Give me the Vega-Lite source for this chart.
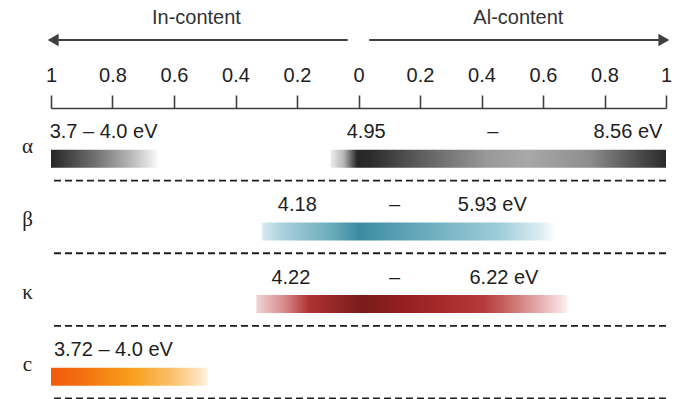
{
  "$schema": "https://vega.github.io/schema/vega-lite/v6.json",
  "description": "Band-gap ranges of alloyed Ga2O3 polymorphs versus In- and Al-content.",
  "autosize": "none",
  "padding": {"top": 108, "left": 51, "right": 14, "bottom": 1},
  "width": 615,
  "height": 290.5,
  "background": "white",
  "config": {
    "view": {"stroke": null},
    "font": "Liberation Sans"
  },
  "datasets": {
    "header": [
      {"side": "In", "title": "In-content", "center": -0.527, "shaftStart": -0.035, "tip": -0.993},
      {"side": "Al", "title": "Al-content", "center": 0.52, "shaftStart": 0.035, "tip": 0.993}
    ],
    "rows": [
      {"phase": "α"}, {"phase": "β"}, {"phase": "κ"}, {"phase": "c"}
    ],
    "bars": [
      {"id": "α-In", "phase": "α", "from": -1.0, "to": -0.65},
      {"id": "α-Al", "phase": "α", "from": -0.091, "to": 1.0},
      {"id": "β", "phase": "β", "from": -0.313, "to": 0.64},
      {"id": "κ", "phase": "κ", "from": -0.332, "to": 0.679},
      {"id": "c", "phase": "c", "from": -1.0, "to": -0.49}
    ],
    "labels": [
      {"phase": "α", "text": "3.7 – 4.0 eV", "pos": -0.829},
      {"phase": "α", "text": "4.95", "pos": 0.025},
      {"phase": "α", "text": "–", "pos": 0.437},
      {"phase": "α", "text": "8.56 eV", "pos": 0.876},
      {"phase": "β", "text": "4.18", "pos": -0.199},
      {"phase": "β", "text": "–", "pos": 0.117},
      {"phase": "β", "text": "5.93 eV", "pos": 0.435},
      {"phase": "κ", "text": "4.22", "pos": -0.22},
      {"phase": "κ", "text": "–", "pos": 0.117},
      {"phase": "κ", "text": "6.22 eV", "pos": 0.473},
      {"phase": "c", "text": "3.72 – 4.0 eV", "pos": -0.797}
    ]
  },
  "resolve": {"scale": {"y": "independent"}},
  "layer": [
    {
      "data": {"name": "header"},
      "layer": [
        {
          "mark": {"type": "text", "fontSize": 20, "color": "#333333", "baseline": "middle", "align": "center"},
          "encoding": {
            "x": {"field": "center", "type": "quantitative", "title": null, "scale": {"domain": [-1, 1]}},
            "y": {"datum": "label", "type": "nominal", "axis": null,
                  "scale": {"type": "point", "domain": ["label", "arrow"], "range": [-90, -68], "padding": 0}},
            "text": {"field": "title"}
          }
        },
        {
          "mark": {"type": "rule", "strokeWidth": 2, "color": "#404040"},
          "encoding": {
            "x": {"field": "shaftStart", "type": "quantitative", "title": null},
            "x2": {"field": "tip"},
            "y": {"datum": "arrow", "type": "nominal", "axis": null}
          }
        },
        {
          "mark": {"type": "point", "filled": true, "size": 160, "color": "#404040", "opacity": 1},
          "encoding": {
            "x": {"field": "tip", "type": "quantitative", "title": null},
            "y": {"datum": "arrow", "type": "nominal", "axis": null},
            "shape": {"field": "side", "type": "nominal", "legend": null,
                      "scale": {"domain": ["In", "Al"], "range": ["triangle-left", "triangle-right"]}}
          }
        }
      ]
    },
    {
      "encoding": {
        "y": {
          "field": "phase", "type": "nominal", "title": null,
          "scale": {"domain": ["α", "β", "κ", "c"], "paddingInner": 0, "paddingOuter": 0},
          "axis": {
            "domain": false, "ticks": false, "grid": false,
            "labelFont": "Liberation Serif", "labelFontSize": 21, "labelColor": "#222222",
            "labelAlign": "center", "labelBaseline": "middle", "labelPadding": 24, "labelOffset": 3
          }
        }
      },
      "layer": [
        {
          "data": {"name": "rows"},
          "mark": {"type": "rule", "strokeDash": [7, 4], "color": "#1e1e1e", "strokeWidth": 1.8},
          "encoding": {
            "y": {"field": "phase", "type": "nominal", "bandPosition": 1}
          }
        },
        {
          "data": {"name": "bars"},
          "transform": [{"filter": "datum.id === 'α-In'"}],
          "mark": {"type": "bar", "height": 18, "yOffset": 14.5,
            "fill": {"gradient": "linear", "x1": 0, "y1": 0, "x2": 1, "y2": 0, "stops": [
              {"offset": 0, "color": "#262626"}, {"offset": 0.45, "color": "#787878"},
              {"offset": 0.75, "color": "#bababa"}, {"offset": 0.92, "color": "#e6e6e6"},
              {"offset": 1, "color": "#ffffff"}]}},
          "encoding": {
            "x": {"field": "from", "type": "quantitative", "title": null,
              "scale": {"domain": [-1, 1]},
              "axis": {
                "orient": "top", "values": [-1, -0.8, -0.6, -0.4, -0.2, 0, 0.2, 0.4, 0.6, 0.8, 1],
                "labelExpr": "format(abs(datum.value), '~g')", "grid": false,
                "domainColor": "#404040", "domainWidth": 1.6,
                "tickColor": "#404040", "tickWidth": 1.6, "tickSize": 13,
                "labelFont": "Liberation Sans", "labelFontSize": 20, "labelColor": "#1e1e1e",
                "labelPadding": 10, "labelFlush": false, "labelOverlap": false
              }},
            "x2": {"field": "to"}
          }
        },
        {
          "data": {"name": "bars"},
          "transform": [{"filter": "datum.id === 'α-Al'"}],
          "mark": {"type": "bar", "height": 18, "yOffset": 14.5,
            "fill": {"gradient": "linear", "x1": 0, "y1": 0, "x2": 1, "y2": 0, "stops": [
              {"offset": 0, "color": "#eeeeee"}, {"offset": 0.04, "color": "#b4b4b4"},
              {"offset": 0.08, "color": "#262626"}, {"offset": 0.12, "color": "#2c2c2c"},
              {"offset": 0.27, "color": "#5e5e5e"}, {"offset": 0.47, "color": "#9a9a9a"},
              {"offset": 0.59, "color": "#a8a8a8"}, {"offset": 0.77, "color": "#8e8e8e"},
              {"offset": 0.91, "color": "#505050"}, {"offset": 1, "color": "#2a2a2a"}]}},
          "encoding": {
            "x": {"field": "from", "type": "quantitative", "title": null},
            "x2": {"field": "to"}
          }
        },
        {
          "data": {"name": "bars"},
          "transform": [{"filter": "datum.id === 'β'"}],
          "mark": {"type": "bar", "height": 18, "yOffset": 14.5,
            "fill": {"gradient": "linear", "x1": 0, "y1": 0, "x2": 1, "y2": 0, "stops": [
              {"offset": 0, "color": "#d4e9ef"}, {"offset": 0.07, "color": "#a8d0dc"},
              {"offset": 0.24, "color": "#6aaabb"}, {"offset": 0.33, "color": "#3b8ca2"},
              {"offset": 0.47, "color": "#5a9fb3"}, {"offset": 0.64, "color": "#7cb7c7"},
              {"offset": 0.81, "color": "#9fcdd9"}, {"offset": 0.95, "color": "#dcedf2"},
              {"offset": 1, "color": "#ffffff"}]}},
          "encoding": {
            "x": {"field": "from", "type": "quantitative", "title": null},
            "x2": {"field": "to"}
          }
        },
        {
          "data": {"name": "bars"},
          "transform": [{"filter": "datum.id === 'κ'"}],
          "mark": {"type": "bar", "height": 18, "yOffset": 14.5,
            "fill": {"gradient": "linear", "x1": 0, "y1": 0, "x2": 1, "y2": 0, "stops": [
              {"offset": 0, "color": "#f2d4d4"}, {"offset": 0.09, "color": "#d88a8a"},
              {"offset": 0.17, "color": "#b03232"}, {"offset": 0.34, "color": "#7a1b1b"},
              {"offset": 0.46, "color": "#921f1f"}, {"offset": 0.6, "color": "#a62a2a"},
              {"offset": 0.73, "color": "#b43a3a"}, {"offset": 0.84, "color": "#d27c7c"},
              {"offset": 0.95, "color": "#f0caca"}, {"offset": 1, "color": "#fcf0f0"}]}},
          "encoding": {
            "x": {"field": "from", "type": "quantitative", "title": null},
            "x2": {"field": "to"}
          }
        },
        {
          "data": {"name": "bars"},
          "transform": [{"filter": "datum.id === 'c'"}],
          "mark": {"type": "bar", "height": 18, "yOffset": 14.5,
            "fill": {"gradient": "linear", "x1": 0, "y1": 0, "x2": 1, "y2": 0, "stops": [
              {"offset": 0, "color": "#f25a0a"}, {"offset": 0.2, "color": "#f47010"},
              {"offset": 0.52, "color": "#f8a01c"}, {"offset": 0.78, "color": "#fbc26e"},
              {"offset": 0.95, "color": "#fde5c2"}, {"offset": 1, "color": "#fff3e4"}]}},
          "encoding": {
            "x": {"field": "from", "type": "quantitative", "title": null},
            "x2": {"field": "to"}
          }
        },
        {
          "data": {"name": "labels"},
          "mark": {"type": "text", "fontSize": 20, "color": "#1e1e1e", "baseline": "middle", "align": "center", "yOffset": -12},
          "encoding": {
            "x": {"field": "pos", "type": "quantitative", "title": null},
            "text": {"field": "text"}
          }
        }
      ]
    }
  ]
}
